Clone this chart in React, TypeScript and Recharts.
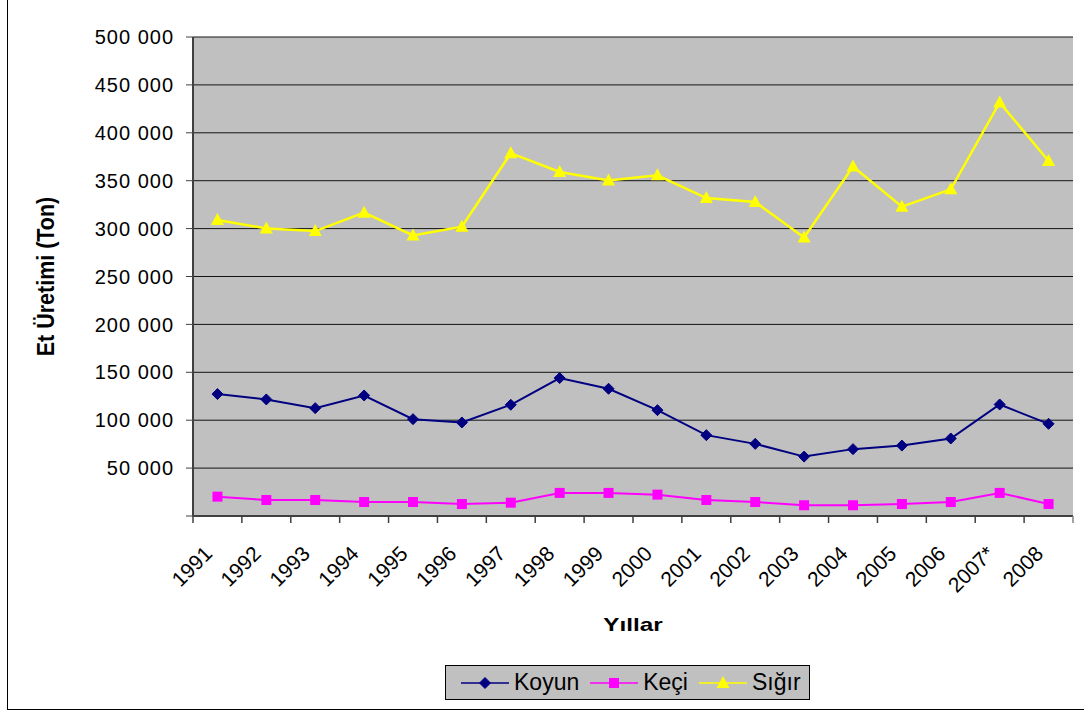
import { CartesianGrid, Label, Line, LineChart, XAxis, YAxis } from "recharts";

const years = ["1991", "1992", "1993", "1994", "1995", "1996", "1997", "1998", "1999", "2000", "2001", "2002", "2003", "2004", "2005", "2006", "2007*", "2008"];
const koyun = [127300, 121700, 112600, 125800, 101100, 97600, 116100, 144000, 132800, 110500, 84400, 75300, 62000, 69800, 73500, 80900, 116400, 96200];
const keci = [20200, 16700, 16700, 14600, 14600, 12500, 13900, 24100, 24100, 22300, 16700, 14600, 11200, 11200, 12500, 14600, 24100, 12500];
const sigir = [308900, 300200, 297400, 316600, 292900, 302000, 378700, 359100, 350100, 355600, 331900, 327700, 290800, 364700, 322900, 341000, 431700, 370600];
const yTicks = [0, 50000, 100000, 150000, 200000, 250000, 300000, 350000, 400000, 450000, 500000];

const rows = years.map((year, i) => ({ year, koyun: koyun[i], keci: keci[i], sigir: sigir[i] }));

const FONT = '"Liberation Sans", Arial, sans-serif';
const W = 1084;
const H = 717;
const Y_AXIS_W = 193;
const RIGHT = 11;
const BAND = (W - Y_AXIS_W - RIGHT) / years.length;

const NAVY = "#000080";
const MAGENTA = "#ff00ff";
const YELLOW = "#ffff00";

const fmt = (v: number) => (v === 0 ? "" : v.toLocaleString("en-US").replace(/,/g, " "));

function Diamond({ cx, cy, color = NAVY }: any) {
  if (cx == null || cy == null) return null;
  const r = 5.5;
  return <polygon points={`${cx},${cy - r} ${cx + r},${cy} ${cx},${cy + r} ${cx - r},${cy}`} fill={color} stroke={color} />;
}

function Square({ cx, cy, color = MAGENTA }: any) {
  if (cx == null || cy == null) return null;
  return <rect x={cx - 5} y={cy - 5} width={10} height={10} fill={color} />;
}

function Triangle({ cx, cy, color = YELLOW }: any) {
  if (cx == null || cy == null) return null;
  return <polygon points={`${cx},${cy - 7} ${cx + 6.5},${cy + 5} ${cx - 6.5},${cy + 5}`} fill={color} />;
}

// tick marks sit between categories, labels rotated -45deg ending near the point
function YearTick({ x, y, payload, index }: any) {
  const half = BAND / 2;
  const ax = x - 4;
  const ay = y + 39;
  return (
    <g>
      <line x1={x - half} y1={y} x2={x - half} y2={y + 7} stroke="#404040" strokeWidth={1.5} />
      {index === years.length - 1 && <line x1={x + half} y1={y} x2={x + half} y2={y + 7} stroke="#808080" strokeWidth={1.5} />}
      <text x={ax} y={ay} textAnchor="end" transform={`rotate(-45, ${ax}, ${ay})`} fontFamily={FONT} fontSize={21} fill="#000">
        {payload.value}
      </text>
    </g>
  );
}

function LegendItem({ color, label, Marker }: { color: string; label: string; Marker: any }) {
  return (
    <span style={{ display: "inline-flex", alignItems: "center", marginRight: 11 }}>
      <svg width={48} height={16} style={{ display: "block" }}>
        <line x1={0} y1={8} x2={48} y2={8} stroke={color} strokeWidth={1.5} />
        <Marker cx={24} cy={8} color={color} />
      </svg>
      <span style={{ marginLeft: 5, fontSize: 23, lineHeight: "33px" }}>{label}</span>
    </span>
  );
}

export default function App() {
  return (
    <div style={{ position: "absolute", left: 0, top: 0, width: W, height: H, overflow: "hidden", background: "#fff", fontFamily: FONT }}>
      <div style={{ position: "absolute", left: 7, top: -2, width: 1100, height: 712, border: "1px solid #000", boxSizing: "border-box" }} />
      <LineChart width={W} height={H} data={rows} margin={{ top: 37, right: RIGHT, bottom: 0, left: 0 }}>
        <CartesianGrid fill="#c0c0c0" vertical={false} stroke="#000" strokeOpacity={0.9} />
        <XAxis
          dataKey="year"
          height={201}
          interval={0}
          padding={{ left: BAND / 2, right: BAND / 2 }}
          axisLine={{ stroke: "#404040", strokeWidth: 2 }}
          tickLine={false}
          tickSize={0}
          tickMargin={0}
          tick={<YearTick />}
        >
          <Label
            content={({ viewBox }: any) => (
              <text
                x={0}
                y={0}
                textAnchor="middle"
                transform={`translate(${viewBox.x + viewBox.width / 2}, ${viewBox.y + 115}) scale(1.28, 1)`}
                fontFamily={FONT}
                fontWeight="bold"
                fontSize={19}
              >
                Yıllar
              </text>
            )}
          />
        </XAxis>
        <YAxis
          width={Y_AXIS_W}
          domain={[0, 500000]}
          ticks={yTicks}
          interval={0}
          tickFormatter={fmt}
          axisLine={{ stroke: "#404040", strokeWidth: 2 }}
          tickLine={{ stroke: "#404040" }}
          tickSize={7}
          tickMargin={12}
          tick={{ fontFamily: FONT, fontSize: 20, fill: "#000", letterSpacing: 1 }}
        >
          <Label
            content={({ viewBox }: any) => {
              const cx = viewBox.x + 46;
              const cy = viewBox.y + viewBox.height / 2;
              return (
                <text
                  x={0}
                  y={0}
                  textAnchor="middle"
                  dominantBaseline="central"
                  transform={`translate(${cx}, ${cy}) scale(1.12, 1) rotate(-90)`}
                  fontFamily={FONT}
                  fontWeight="bold"
                  fontSize={21.5}
                >
                  Et Üretimi (Ton)
                </text>
              );
            }}
          />
        </YAxis>
        <YAxis yAxisId="frame" orientation="right" width={0} tick={false} tickLine={false} axisLine={{ stroke: "#808080", strokeWidth: 2 }} />
        <Line dataKey="koyun" name="Koyun" stroke={NAVY} strokeWidth={2} dot={<Diamond />} activeDot={false} isAnimationActive={false} />
        <Line dataKey="keci" name="Keçi" stroke={MAGENTA} strokeWidth={2} dot={<Square />} activeDot={false} isAnimationActive={false} />
        <Line dataKey="sigir" name="Sığır" stroke={YELLOW} strokeWidth={2.5} dot={<Triangle />} activeDot={false} isAnimationActive={false} />
      </LineChart>
      <div
        style={{
          position: "absolute",
          left: 445,
          top: 665,
          width: 365,
          height: 35,
          border: "1px solid #000",
          background: "#c0c0c0",
          boxSizing: "border-box",
          display: "flex",
          alignItems: "center",
          paddingLeft: 15,
          whiteSpace: "nowrap",
        }}
      >
        <LegendItem color={NAVY} label="Koyun" Marker={Diamond} />
        <LegendItem color={MAGENTA} label="Keçi" Marker={Square} />
        <LegendItem color={YELLOW} label="Sığır" Marker={Triangle} />
      </div>
    </div>
  );
}
